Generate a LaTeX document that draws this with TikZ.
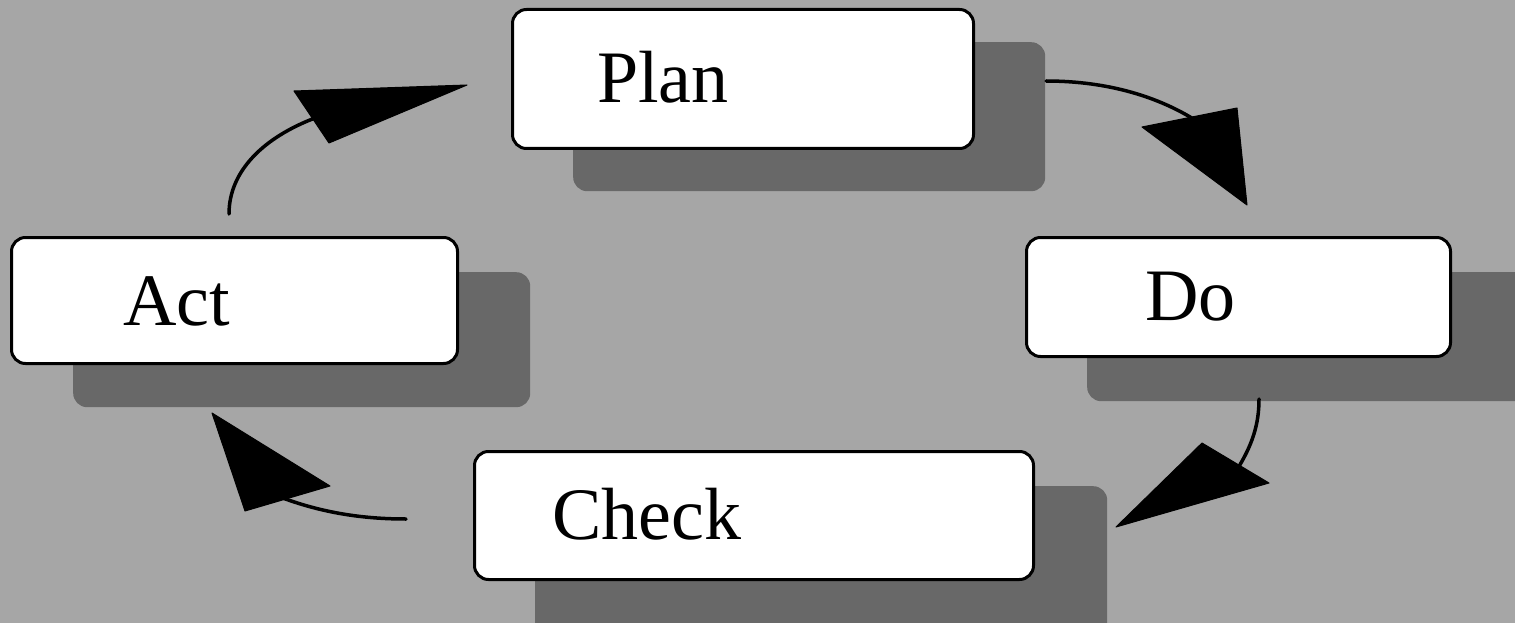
\documentclass[tikz,border=0pt]{standalone}
\usepackage{fontspec}
\setmainfont{Liberation Serif}
\definecolor{bggray}{RGB}{166,166,166}
\definecolor{shgray}{RGB}{104,104,104}
\begin{document}
\begin{tikzpicture}[x=1pt,y=-1pt,
  shadowbox/.style={fill=shgray, draw=none, rounded corners=14pt, inner sep=0pt, anchor=north west},
  stagebox/.style={fill=white, draw=black, line width=3pt, rounded corners=14pt, inner sep=0pt},
  stagetext/.style={anchor=base west, inner sep=0pt, font=\fontsize{74}{80}\selectfont},
  flow/.style={line width=3.5pt, line cap=round},
  headfill/.style={fill=black, draw=black, line width=1pt, line join=round}]
\fill[bggray] (0,0) rectangle (1515,623);
\useasboundingbox (0,0) rectangle (1515,623);
% shadows
\node[shadowbox, minimum width=472pt, minimum height=149pt] (planS) at (573,42) {};
\node[shadowbox, minimum width=450pt, minimum height=129pt] (doS) at (1087,272) {};
\node[shadowbox, minimum width=457pt, minimum height=135pt] (actS) at (73,272) {};
\node[shadowbox, minimum width=572pt, minimum height=160pt] (checkS) at (535,486) {};
% boxes
\node[stagebox, minimum width=461pt, minimum height=139pt] (plan) at (743,79) {};
\node[stagebox, minimum width=424pt, minimum height=119pt] (do) at (1238.5,297) {};
\node[stagebox, minimum width=446pt, minimum height=126pt] (act) at (234.5,300.5) {};
\node[stagebox, minimum width=559pt, minimum height=128pt] (check) at (754,515.5) {};
% texts
\node[stagetext] (planT) at (597,103) {Plan};
\node[stagetext] (doT) at (1145,320) {Do};
\node[stagetext] (actT) at (123,325) {Act};
\node[stagetext] (checkT) at (552,539) {Check};
% connector end points
\coordinate (pd1) at (1046,81);
\coordinate (pd2) at (1195,120);
\coordinate (dc1) at (1259,399);
\coordinate (dc2) at (1238,468);
\coordinate (ca1) at (406,519);
\coordinate (ca2) at (280,497);
\coordinate (ap1) at (229,214);
\coordinate (ap2) at (315,118);
% Plan -> Do
\draw[flow] (pd1) .. controls (1110,81) and (1160,98) .. (pd2);
\fill[headfill] (1142,127) -- (1237,108) -- (1247,205) -- cycle;
% Do -> Check
\draw[flow] (dc1) .. controls (1259,425) and (1252,445) .. (dc2);
\fill[headfill] (1202,443) -- (1269,483) -- (1116,527) -- cycle;
% Check -> Act
\draw[flow] (ca1) .. controls (360,519) and (320,512) .. (ca2);
\fill[headfill] (330,486) -- (245,511) -- (212,413) -- cycle;
% Act -> Plan
\draw[flow] (ap1) .. controls (229,170) and (265,137) .. (ap2);
\fill[headfill] (294,91) -- (329,143) -- (467,85) -- cycle;
\end{tikzpicture}
\end{document}
